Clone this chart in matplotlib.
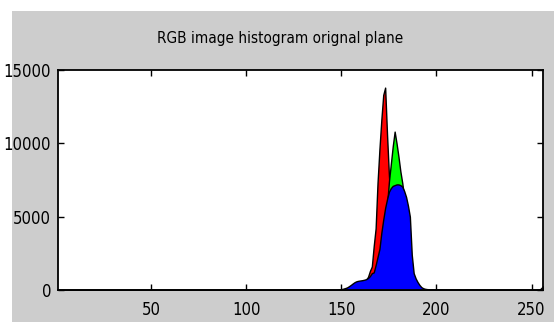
import numpy as np
import matplotlib
matplotlib.use('Agg')
import matplotlib.pyplot as plt
from matplotlib.patches import Rectangle

plt.rcParams['font.family'] = ['DejaVu Sans']
plt.rcParams['font.stretch'] = 'condensed'

# histogram counts per intensity level (levels 1..256), only non-zero stretches listed
red_start = 155
red_counts = [100, 150, 200, 250, 300, 380, 450, 550, 700, 900,
              1300, 1600, 3000, 4200, 7300, 9600, 11600, 13300, 13800, 10600,
              7800, 5500, 4000, 2600, 1600, 900, 500, 250, 120, 60, 30]

green_start = 165
green_counts = [300, 500, 800, 1200, 1800, 2500, 3300, 4200, 5000, 5800,
                7400, 8600, 9800, 10800, 10000, 9100, 8100, 7300, 6300, 5200,
                4100, 2700, 1400, 700, 400, 200, 100]

blue_start = 148
blue_counts = [20, 40, 60, 90, 130, 180, 260, 350, 450, 540,
               600, 630, 650, 670, 700, 740, 820, 950, 1150, 1200,
               1700, 2250, 2800, 3900, 4800, 5600, 6200, 6700, 6950, 7100,
               7150, 7200, 7200, 7150, 7050, 6750, 6350, 5750, 5000, 2400,
               1150, 800, 550, 350, 200, 120, 80,
               60, 50, 40, 50, 40, 30, 40, 30, 30, 20, 30, 20, 20, 30, 20, 20,
               30, 40, 30, 20, 30, 40, 30, 20, 30, 20, 30, 20, 20, 10, 20, 10,
               10, 10, 10]
blue_tail_start = 255
blue_tail = [120, 250]

levels = np.arange(1, 257)


def full_hist(start, counts):
    h = np.zeros(256)
    h[start - 1:start - 1 + len(counts)] = counts
    return h


red = full_hist(red_start, red_counts)
green = full_hist(green_start, green_counts)
blue = full_hist(blue_start, blue_counts) + full_hist(blue_tail_start, blue_tail)

fig = plt.figure(figsize=(5.54, 3.22), dpi=100, facecolor='white')
# grey matlab-style figure panel
panel = Rectangle((12 / 554, 0), 1 - 12 / 554, 1 - 11 / 322,
                  transform=fig.transFigure, facecolor='#cdcdcd',
                  edgecolor='none', zorder=-5)
fig.add_artist(panel)

ax = fig.add_axes([58 / 554, 32 / 322, 485 / 554, 220 / 322])
ax.fill_between(levels, red, color='#ff0000', edgecolor='black', linewidth=1.0)
ax.fill_between(levels, green, color='#00ff00', edgecolor='black', linewidth=1.0)
ax.fill_between(levels, blue, color='#0000ff', edgecolor='black', linewidth=1.0)

ax.set_xlim(1, 256)
ax.set_ylim(0, 15000)
ax.set_xticks([50, 100, 150, 200, 250])
ax.set_yticks([0, 5000, 10000, 15000])
ax.tick_params(direction='in', length=4, width=1, top=True, right=True,
               labelsize=12)
ax.tick_params(axis='x', pad=8)
ax.tick_params(axis='y', pad=5)
for s in ax.spines.values():
    s.set_linewidth(1.3)

fig.text(280 / 554, 1 - 39 / 322, 'RGB image histogram orignal plane',
         ha='center', va='center', fontsize=11)

fig.savefig('out.png', dpi=100, facecolor=fig.get_facecolor())
